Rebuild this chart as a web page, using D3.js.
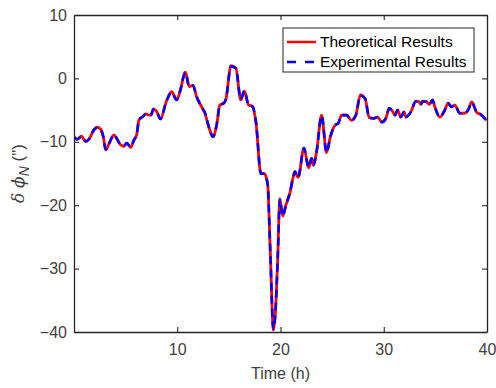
<!DOCTYPE html>
<html>
<head>
<meta charset="utf-8">
<script src="https://cdn.jsdelivr.net/npm/d3@7"></script>
<style>
  html, body { margin: 0; padding: 0; background: #fff; }
  svg { display: block; font-family: "Liberation Sans", Arial, sans-serif; }
</style>
</head>
<body>
<svg id="chart" width="496" height="388"></svg>
<script>
// ---- data ----
const timeH = [0,0.32,0.71,1.13,1.45,1.77,2.20,2.58,2.84,3.07,3.39,3.87,4.13,4.52,4.84,5.10,5.49,5.81,6.07,6.29,6.61,6.94,7.26,7.45,7.68,8.03,8.37,8.95,9.46,9.94,10.26,10.79,11.16,11.52,11.88,12.36,12.68,13.10,13.46,13.81,14.13,14.52,14.71,15.20,15.68,16.15,16.50,16.91,17.28,17.62,18.10,18.42,18.75,19.00,19.31,19.49,19.72,19.94,20.21,20.52,20.91,21.25,21.39,21.71,22.27,22.73,23.01,23.19,23.49,23.98,24.46,24.83,25.27,25.59,25.91,26.40,26.88,27.30,27.73,28.20,28.59,29.07,29.40,29.82,30.20,30.54,30.85,31.10,31.33,31.66,31.97,32.14,32.62,33.11,33.43,33.59,33.76,34.14,34.42,34.72,34.95,35.43,35.91,36.23,36.56,36.88,37.37,37.85,38.17,38.53,38.98,39.40,39.93];
const theoretical = [-9.3,-9.6,-9.1,-10.0,-9.6,-8.6,-7.7,-8.0,-9.2,-11.3,-10.3,-8.9,-9.5,-10.5,-10.7,-10.2,-10.9,-9.7,-8.9,-6.6,-6.1,-5.6,-5.8,-5.8,-4.8,-5.3,-6.4,-3.6,-2.1,-3.4,-2.1,1.0,-1.3,-1.1,-2.9,-4.5,-5.5,-7.9,-9.2,-7.4,-4.2,-3.9,-3.3,2.0,1.6,-3.4,-2.0,-4.2,-4.4,-6.9,-15.0,-15.0,-16.6,-26.8,-39.7,-37.3,-28.9,-19.0,-21.7,-20.0,-18.1,-15.4,-14.7,-15.6,-11.0,-14.1,-12.6,-13.7,-11.6,-5.8,-11.7,-9.2,-7.4,-7.1,-5.8,-5.8,-6.6,-5.8,-2.6,-3.2,-6.2,-6.3,-6.1,-6.9,-6.3,-4.7,-5.2,-5.8,-5.0,-6.1,-5.3,-6.1,-5.3,-3.6,-3.7,-4.1,-3.6,-3.7,-4.1,-3.4,-4.5,-6.1,-5.0,-3.9,-4.5,-4.2,-5.5,-5.5,-5.0,-3.7,-5.3,-5.7,-6.6];
const experimental = [-9.2,-9.6,-9.2,-9.9,-9.6,-8.5,-7.8,-8.0,-9.3,-11.2,-10.3,-8.9,-9.4,-10.5,-10.6,-10.2,-10.8,-9.7,-8.9,-6.5,-6.1,-5.7,-5.8,-5.8,-4.9,-5.3,-6.4,-3.6,-2.2,-3.4,-2.1,0.9,-1.3,-1.1,-2.9,-4.5,-5.4,-7.9,-9.2,-7.4,-4.2,-3.9,-3.3,1.9,1.6,-3.3,-2.0,-4.2,-4.4,-6.8,-15.0,-15.1,-16.6,-26.9,-39.5,-37.3,-28.9,-19.1,-21.7,-20.0,-18.0,-15.4,-14.7,-15.6,-11.0,-14.0,-12.6,-13.7,-11.6,-5.9,-11.7,-9.2,-7.4,-7.1,-5.8,-5.8,-6.6,-5.8,-2.7,-3.2,-6.2,-6.3,-6.1,-6.9,-6.3,-4.7,-5.2,-5.8,-5.0,-6.1,-5.3,-6.1,-5.3,-3.6,-3.7,-4.1,-3.6,-3.7,-4.1,-3.4,-4.5,-6.1,-5.0,-3.9,-4.5,-4.2,-5.5,-5.5,-5.0,-3.8,-5.3,-5.7,-6.6];
const xTicks = [10, 20, 30, 40];
const yTicks = [10, 0, -10, -20, -30, -40];
const seriesNames = ["Theoretical Results", "Experimental Results"];

// ---- layout ----
const svg = d3.select("#chart");
const L = 74, R = 487, T = 15, B = 332;
const x = d3.scaleLinear().domain([0, 40]).range([L, R]);
const y = d3.scaleLinear().domain([-40, 10]).range([B, T]);
const axisColor = "#262626";
const tickLen = 5;

// lines
const line = d3.line().x((d, i) => x(timeH[i])).y(d => y(d)).curve(d3.curveMonotoneX);
const plot = svg.append("g");
svg.append("clipPath").attr("id", "clip").append("rect")
  .attr("x", L).attr("y", T - 2).attr("width", R - L).attr("height", B - T + 4);
plot.attr("clip-path", "url(#clip)");
plot.append("path").datum(theoretical).attr("d", line)
  .attr("fill", "none").attr("stroke", "#ff0000").attr("stroke-width", 2.8)
  .attr("stroke-linejoin", "round");
plot.append("path").datum(experimental).attr("d", line)
  .attr("fill", "none").attr("stroke", "#0000ff").attr("stroke-width", 2.6)
  .attr("stroke-dasharray", "8,5");

// axes (MATLAB-style box with inward ticks)
const axB = d3.axisBottom(x).tickValues(xTicks).tickSizeInner(-tickLen).tickSizeOuter(0).tickPadding(12);
const axT = d3.axisTop(x).tickValues(xTicks).tickSizeInner(-tickLen).tickSizeOuter(0).tickFormat("");
const axL = d3.axisLeft(y).tickValues(yTicks).tickSizeInner(-tickLen).tickSizeOuter(0).tickPadding(7);
const axR = d3.axisRight(y).tickValues(yTicks).tickSizeInner(-tickLen).tickSizeOuter(0).tickFormat("");

function style(g) {
  g.selectAll("path.domain").attr("stroke", axisColor).attr("stroke-width", 1.3);
  g.selectAll(".tick line").attr("stroke", axisColor).attr("stroke-width", 1.1);
  g.selectAll(".tick text").attr("fill", "#404040").style("font-size", "16px")
   .style("font-family", "'Liberation Sans', Arial, sans-serif");
}
svg.append("g").attr("transform", `translate(0,${B})`).call(axB).call(style);
svg.append("g").attr("transform", `translate(0,${T})`).call(axT).call(style);
svg.append("g").attr("transform", `translate(${L},0)`).call(axL).call(style);
svg.append("g").attr("transform", `translate(${R},0)`).call(axR).call(style);

// axis labels
svg.append("text").attr("x", (L + R) / 2).attr("y", 379).attr("text-anchor", "middle")
  .attr("fill", "#404040").style("font-size", "16px").text("Time (h)");

const yl = svg.append("text").attr("transform", `translate(24,${(T + B) / 2}) rotate(-90)`)
  .attr("text-anchor", "middle").attr("fill", "#404040").style("font-size", "17px");
yl.append("tspan").style("font-style", "italic").style("font-family", "'DejaVu Serif', serif").text("δ");
yl.append("tspan").text(" ");
yl.append("tspan").style("font-style", "italic").style("font-family", "'DejaVu Serif', serif").text("ϕ");
yl.append("tspan").attr("dy", 5).style("font-size", "14px").style("font-style", "italic").text("N");
yl.append("tspan").attr("dy", -5).text(" (\")");

// legend
const lg = svg.append("g");
lg.append("rect").attr("x", 283).attr("y", 28).attr("width", 191).attr("height", 44)
  .attr("fill", "#fff").attr("stroke", axisColor).attr("stroke-width", 1);
const colors = ["#ff0000", "#0000ff"];
const dashes = [null, "9,9"];
seriesNames.forEach((name, i) => {
  const cy = 42 + i * 20;
  lg.append("line").attr("x1", 287).attr("x2", 316).attr("y1", cy).attr("y2", cy)
    .attr("stroke", colors[i]).attr("stroke-width", 2.5).attr("stroke-dasharray", dashes[i]);
  lg.append("text").attr("x", 320).attr("y", cy).attr("dy", "0.35em")
    .attr("fill", "#000").style("font-size", "15.5px").text(name);
});
</script>
</body>
</html>
